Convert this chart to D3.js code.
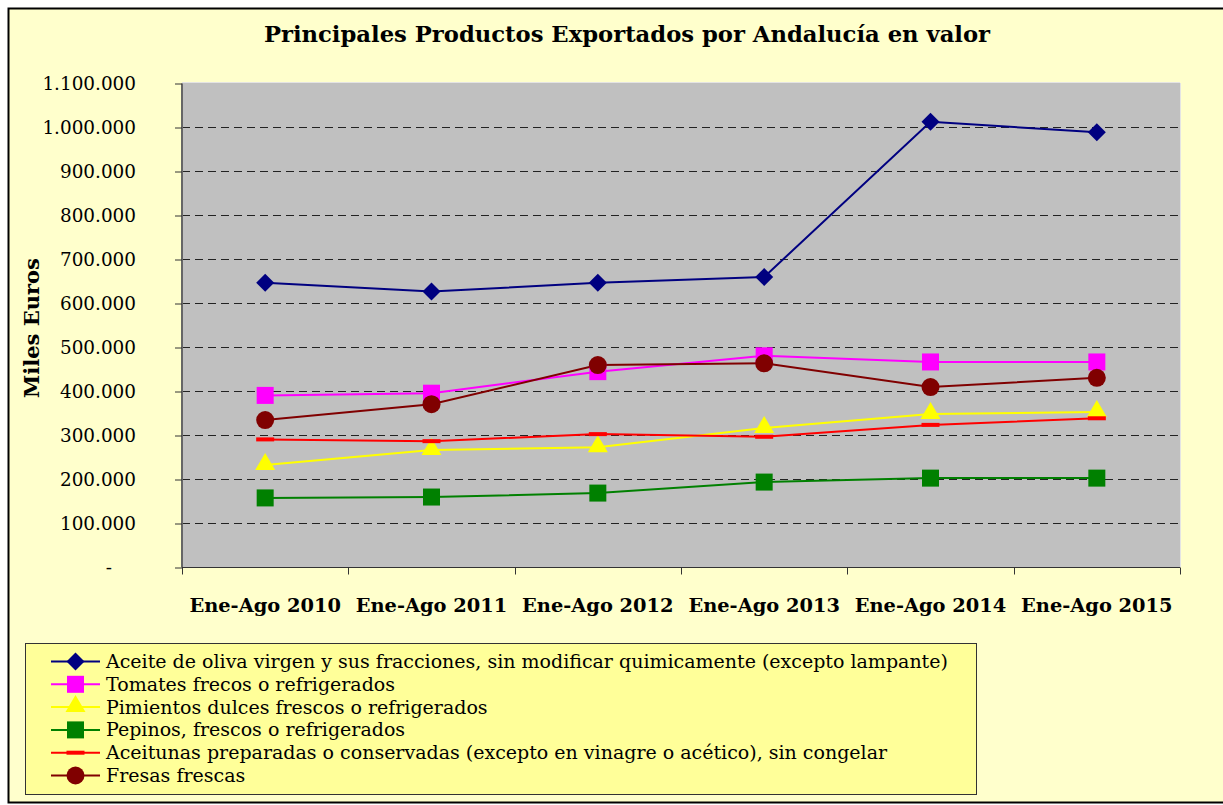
<!DOCTYPE html>
<html>
<head>
<meta charset="utf-8">
<script src="https://cdn.jsdelivr.net/npm/d3@7"></script>
<style>
  body { margin: 0; background: #fff; }
  svg text { font-family: "DejaVu Serif", serif; fill: #000; }
</style>
</head>
<body>
<div id="chart"></div>
<script>
const categories = ["Ene-Ago 2010", "Ene-Ago 2011", "Ene-Ago 2012", "Ene-Ago 2013", "Ene-Ago 2014", "Ene-Ago 2015"];

const seriesNames = [
  "Aceite de oliva virgen y sus fracciones, sin modificar quimicamente (excepto lampante)",
  "Tomates frecos o refrigerados",
  "Pimientos dulces frescos o refrigerados",
  "Pepinos, frescos o refrigerados",
  "Aceitunas preparadas o conservadas (excepto en vinagre o acético), sin congelar",
  "Fresas frescas"
];

const aceite    = [646000, 626000, 646000, 659000, 1012000, 988000];
const tomates   = [390000, 395000, 444000, 480000, 466000, 466000];
const pimientos = [232000, 266000, 272000, 316000, 348000, 352000];
const pepinos   = [157000, 159000, 168000, 193000, 202000, 202000];
const aceitunas = [290000, 286000, 302000, 296000, 323000, 338000];
const fresas    = [334000, 370000, 459000, 463000, 409000, 430000];

const yTicks = [0, 100000, 200000, 300000, 400000, 500000, 600000, 700000, 800000, 900000, 1000000, 1100000];

const series = [
  { name: seriesNames[0], values: aceite,    color: "#000080", marker: "diamond" },
  { name: seriesNames[1], values: tomates,   color: "#FF00FF", marker: "square" },
  { name: seriesNames[2], values: pimientos, color: "#FFFF00", marker: "triangle" },
  { name: seriesNames[3], values: pepinos,   color: "#008000", marker: "square" },
  { name: seriesNames[4], values: aceitunas, color: "#FF0000", marker: "dash" },
  { name: seriesNames[5], values: fresas,    color: "#800000", marker: "circle" }
];

const width = 1223, height = 805;
const svg = d3.select("#chart").append("svg")
  .attr("width", width).attr("height", height);

// chart background
svg.append("rect")
  .attr("x", 8.5).attr("y", 8.5).attr("width", 1240).attr("height", 794)
  .attr("fill", "#FFFFCC").attr("stroke", "#000").attr("stroke-width", 2);

svg.append("text")
  .attr("x", 627).attr("y", 42)
  .attr("text-anchor", "middle")
  .attr("font-weight", "bold").attr("font-size", 22.7)
  .text("Principales Productos Exportados por Andalucía en valor");

const x = d3.scaleBand().domain(categories).range([182, 1180]).padding(0);
const y = d3.scaleLinear().domain([0, 1100000]).range([567, 83]);
const cx = d => x(d) + x.bandwidth() / 2;

// plot area
svg.append("rect")
  .attr("x", 182).attr("y", y(1100000))
  .attr("width", 998).attr("height", y(0) - y(1100000))
  .attr("fill", "#C0C0C0");
svg.append("line")
  .attr("x1", 182).attr("x2", 1180).attr("y1", y(1100000) - 0.5).attr("y2", y(1100000) - 0.5)
  .attr("stroke", "#e4e4e4");
svg.append("line")
  .attr("x1", 1180.5).attr("x2", 1180.5).attr("y1", y(1100000)).attr("y2", y(0))
  .attr("stroke", "#e4e4e4");

// grid
svg.append("g").selectAll("line")
  .data(yTicks.filter(t => t > 0 && t < 1100000))
  .join("line")
  .attr("x1", 182).attr("x2", 1180)
  .attr("y1", d => Math.round(y(d)) + 0.5).attr("y2", d => Math.round(y(d)) + 0.5)
  .attr("stroke", "#222").attr("stroke-dasharray", "8,5");

// y axis
const es = d3.formatLocale({ decimal: ",", thousands: ".", grouping: [3], currency: ["", " €"] });
const fmt = es.format(",d");
const yAxis = svg.append("g")
  .attr("transform", "translate(182,0.5)")
  .call(d3.axisLeft(y).tickValues(yTicks).tickSize(7).tickPadding(39)
    .tickFormat(d => d === 0 ? "-" : fmt(d)));
yAxis.select(".domain").attr("stroke", "#666").attr("stroke-width", 2).attr("d", "M0,83V567");
yAxis.selectAll(".tick line").attr("stroke", "#333");
yAxis.selectAll(".tick text")
  .attr("font-family", "DejaVu Serif").attr("font-size", 18.4).attr("fill", "#000")
  .attr("dx", d => d === 0 ? -24 : 0);

svg.append("text")
  .attr("transform", "translate(39,328) rotate(-90)")
  .attr("text-anchor", "middle")
  .attr("font-weight", "bold").attr("font-size", 21)
  .text("Miles Euros");

// x axis
const xAxis = svg.append("g").attr("transform", "translate(0,567.5)");
xAxis.append("line").attr("x1", 182).attr("x2", 1180).attr("stroke", "#333");
xAxis.selectAll("line.tk")
  .data(categories.concat([null]))
  .join("line").attr("class", "tk")
  .attr("x1", d => Math.round(d === null ? 1180 : x(d)) + 0.5)
  .attr("x2", d => Math.round(d === null ? 1180 : x(d)) + 0.5)
  .attr("y1", 0).attr("y2", 7).attr("stroke", "#333");
xAxis.selectAll("text")
  .data(categories)
  .join("text")
  .attr("x", d => cx(d)).attr("y", 44)
  .attr("text-anchor", "middle")
  .attr("font-weight", "bold").attr("font-size", 19.4)
  .text(d => d);

// markers
function drawMarker(g, type, color, px, py) {
  if (type === "diamond") {
    g.append("path").attr("d", `M${px},${py - 9}L${px + 9},${py}L${px},${py + 9}L${px - 9},${py}Z`).attr("fill", color);
  } else if (type === "square") {
    g.append("rect").attr("x", px - 8.5).attr("y", py - 8.5).attr("width", 17).attr("height", 17).attr("fill", color);
  } else if (type === "triangle") {
    g.append("path").attr("d", `M${px},${py - 12}L${px + 10},${py + 5}L${px - 10},${py + 5}Z`).attr("fill", color);
  } else if (type === "dash") {
    g.append("rect").attr("x", px - 9).attr("y", py - 2).attr("width", 18).attr("height", 4).attr("fill", color);
  } else if (type === "circle") {
    g.append("circle").attr("cx", px).attr("cy", py).attr("r", 9).attr("fill", color);
  }
}

const line = d3.line().x((d, i) => cx(categories[i])).y(d => y(d));
const plot = svg.append("g");
series.forEach(s => {
  plot.append("path").datum(s.values)
    .attr("d", line).attr("fill", "none")
    .attr("stroke", s.color).attr("stroke-width", 2);
});
series.forEach(s => {
  const g = plot.append("g");
  s.values.forEach((v, i) => drawMarker(g, s.marker, s.color, cx(categories[i]), y(v)));
});

// legend
const legend = svg.append("g");
legend.append("rect")
  .attr("x", 25.5).attr("y", 643.5).attr("width", 951).attr("height", 151)
  .attr("fill", "#FFFF99").attr("stroke", "#333");
series.forEach((s, i) => {
  const ly = 661.5 + i * 22.8;
  legend.append("line").attr("x1", 51).attr("x2", 100).attr("y1", ly).attr("y2", ly)
    .attr("stroke", s.color).attr("stroke-width", 2);
  drawMarker(legend.append("g"), s.marker, s.color, 75.5, ly);
  legend.append("text").attr("x", 106).attr("y", ly + 6.5)
    .attr("font-size", 19).text(s.name);
});
</script>
</body>
</html>
